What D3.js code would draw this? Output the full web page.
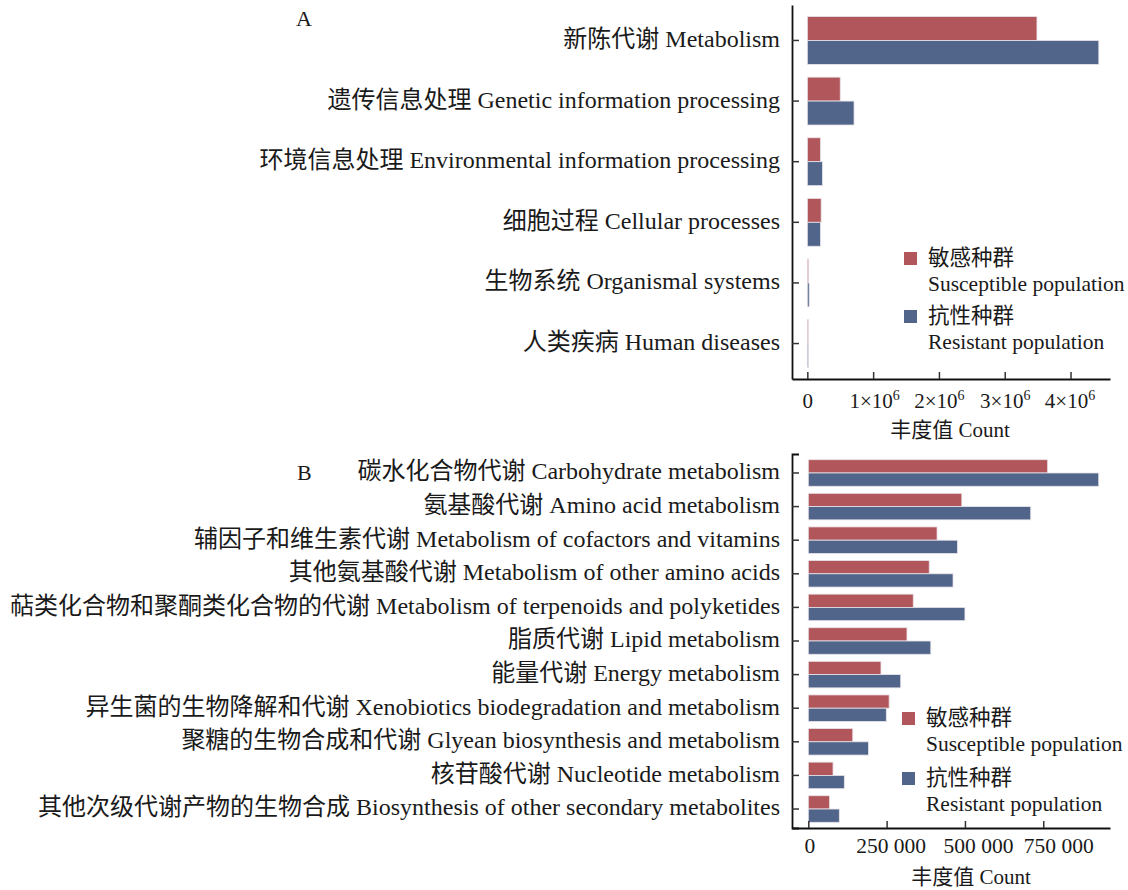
<!DOCTYPE html>
<html>
<head>
<meta charset="utf-8">
<script src="https://cdn.jsdelivr.net/npm/d3@7"></script>
<style>
  html, body { margin: 0; padding: 0; background: #fff; }
  svg text { font-family: "Liberation Serif", "Noto Sans CJK SC", serif; fill: #1a1a1a; }
</style>
</head>
<body>
<svg id="chart" width="1128" height="890"></svg>
<script>
// KEGG level-1 pathways (panel A)
const categoriesA = [
  "新陈代谢 Metabolism",
  "遗传信息处理 Genetic information processing",
  "环境信息处理 Environmental information processing",
  "细胞过程 Cellular processes",
  "生物系统 Organismal systems",
  "人类疾病 Human diseases"
];
const susceptibleA = [3490000, 500000, 200000, 210000, 20000, 15000];
const resistantA   = [4430000, 710000, 230000, 200000, 28000, 18000];
const ticksA = [0, 1e6, 2e6, 3e6, 4e6];

// Metabolism sub-pathways (panel B)
const categoriesB = [
  "碳水化合物代谢 Carbohydrate metabolism",
  "氨基酸代谢 Amino acid metabolism",
  "辅因子和维生素代谢 Metabolism of cofactors and vitamins",
  "其他氨基酸代谢 Metabolism of other amino acids",
  "萜类化合物和聚酮类化合物的代谢 Metabolism of terpenoids and polyketides",
  "脂质代谢 Lipid metabolism",
  "能量代谢 Energy metabolism",
  "异生菌的生物降解和代谢 Xenobiotics biodegradation and metabolism",
  "聚糖的生物合成和代谢 Glyean biosynthesis and metabolism",
  "核苷酸代谢 Nucleotide metabolism",
  "其他次级代谢产物的生物合成 Biosynthesis of other secondary metabolites"
];
const susceptibleB = [764000, 490000, 411000, 386000, 335000, 315000, 232000, 258000, 142000, 79000, 68000];
const resistantB   = [927000, 710000, 476000, 462000, 500000, 391000, 295000, 249000, 192000, 115000, 99000];
const ticksB = [0, 250000, 500000, 750000];

const seriesKeys = ["sus", "res"];
const seriesColors = ["#b1575c", "#506589"];
const legendCN = ["敏感种群", "抗性种群"];
const legendEN = ["Susceptible population", "Resistant population"];
const axisTitle = "丰度值 Count";
const panelLabels = ["A", "B"];

const svg = d3.select("#chart");

function drawPanel(cfg) {
  const g = svg.append("g");
  const x = d3.scaleLinear().domain(cfg.xDomain).range([cfg.left, cfg.right]);
  const y = d3.scaleBand().domain(cfg.categories).range([cfg.top, cfg.bottom])
    .paddingInner(0.21).paddingOuter(cfg.outer);
  const sub = d3.scaleBand().domain(seriesKeys).range([0, y.bandwidth()]);

  const rows = cfg.categories.map((c, i) => ({ cat: c, sus: cfg.sus[i], res: cfg.res[i] }));

  // grouped bars
  const groups = g.selectAll("g.row").data(rows).join("g")
    .attr("class", "row")
    .attr("transform", d => `translate(0,${y(d.cat)})`);
  groups.selectAll("rect").data(d => seriesKeys.map((k, j) => ({ k, v: d[k], j })))
    .join("rect")
    .attr("x", x(0))
    .attr("y", d => sub(d.k))
    .attr("width", d => Math.max(1, x(d.v) - x(0)))
    .attr("height", sub.bandwidth())
    .attr("fill", d => seriesColors[d.j])
    .attr("stroke", "#e9e4ea")
    .attr("stroke-width", 0.8);

  // category axis
  const yAxis = g.append("g")
    .attr("transform", `translate(${cfg.left},0)`)
    .call(d3.axisLeft(y).tickSizeInner(-7).tickSizeOuter(cfg.outerTick).tickPadding(12));
  yAxis.select(".domain").attr("stroke", "#111").attr("stroke-width", 1.8);
  yAxis.selectAll(".tick line").attr("stroke", "#333").attr("stroke-width", 1.5);
  yAxis.selectAll(".tick text")
    .attr("font-size", 24)
    .attr("dy", "0.27em")
    .style("font-family", '"Liberation Serif", "Noto Sans CJK SC", serif');

  // value axis
  const xAxis = g.append("g")
    .attr("transform", `translate(0,${cfg.bottom})`)
    .call(d3.axisBottom(x).tickValues(cfg.ticks).tickSizeInner(-7).tickSizeOuter(0)
      .tickPadding(cfg.tickPad).tickFormat(cfg.fmt));
  xAxis.select(".domain").attr("stroke", "#111").attr("stroke-width", 1.8);
  xAxis.selectAll(".tick line").attr("stroke", "#333").attr("stroke-width", 1.5);
  xAxis.selectAll(".tick text").attr("font-size", cfg.tickFont)
    .attr("dx", (d, i) => cfg.tickShift[i])
    .style("font-family", '"Liberation Serif", serif');
  if (cfg.superscript) {
    xAxis.selectAll(".tick text").each(function (d) {
      if (d === 0) return;
      const t = d3.select(this);
      t.text(null);
      t.append("tspan").text(`${d / 1e6}×10`);
      t.append("tspan").text("6").attr("font-size", 14).attr("dy", "-0.55em");
    });
  }

  // axis title
  g.append("text")
    .attr("x", cfg.titleX).attr("y", cfg.titleY)
    .attr("text-anchor", "middle")
    .attr("font-size", 21)
    .text(axisTitle);

  // panel label
  g.append("text")
    .attr("x", cfg.labelX).attr("y", cfg.labelY)
    .attr("font-size", 22)
    .text(cfg.label);

  // legend
  const lg = g.append("g").attr("transform", `translate(${cfg.legX},${cfg.legY})`);
  seriesKeys.forEach((k, j) => {
    const item = lg.append("g").attr("transform", `translate(0,${j * cfg.legStep})`);
    item.append("rect").attr("x", 0).attr("y", 0).attr("width", 13).attr("height", 13)
      .attr("fill", seriesColors[j]);
    item.append("text").attr("x", 24).attr("y", 12.5).attr("font-size", 21.5).text(legendCN[j]);
    item.append("text").attr("x", 24).attr("y", 39).attr("font-size", 21.5).text(legendEN[j]);
  });
}

drawPanel({
  categories: categoriesA, sus: susceptibleA, res: resistantA,
  xDomain: [-233000, 4600000], ticks: ticksA, superscript: true, tickFont: 21,
  tickShift: [0, 1, 0, 0, -1],
  fmt: d => d === 0 ? "0" : String(d),
  left: 792, right: 1110, top: 5, bottom: 379, outer: 0.19, outerTick: 0,
  tickPad: 14, titleX: 950, titleY: 437,
  label: panelLabels[0], labelX: 296, labelY: 26,
  legX: 904, legY: 252, legStep: 58
});

drawPanel({
  categories: categoriesB, sus: susceptibleB, res: resistantB,
  xDomain: [-52000, 963000], ticks: ticksB, superscript: false, tickFont: 21.5,
  tickShift: [1, 4, 13, 15],
  fmt: d => d3.format(",")(d).replace(/,/g, " "),
  left: 792, right: 1110, top: 454, bottom: 828, outer: 0.17, outerTick: -7,
  tickPad: 10, titleX: 971, titleY: 884,
  label: panelLabels[1], labelX: 297, labelY: 480,
  legX: 902, legY: 712, legStep: 60
});
</script>
</body>
</html>
